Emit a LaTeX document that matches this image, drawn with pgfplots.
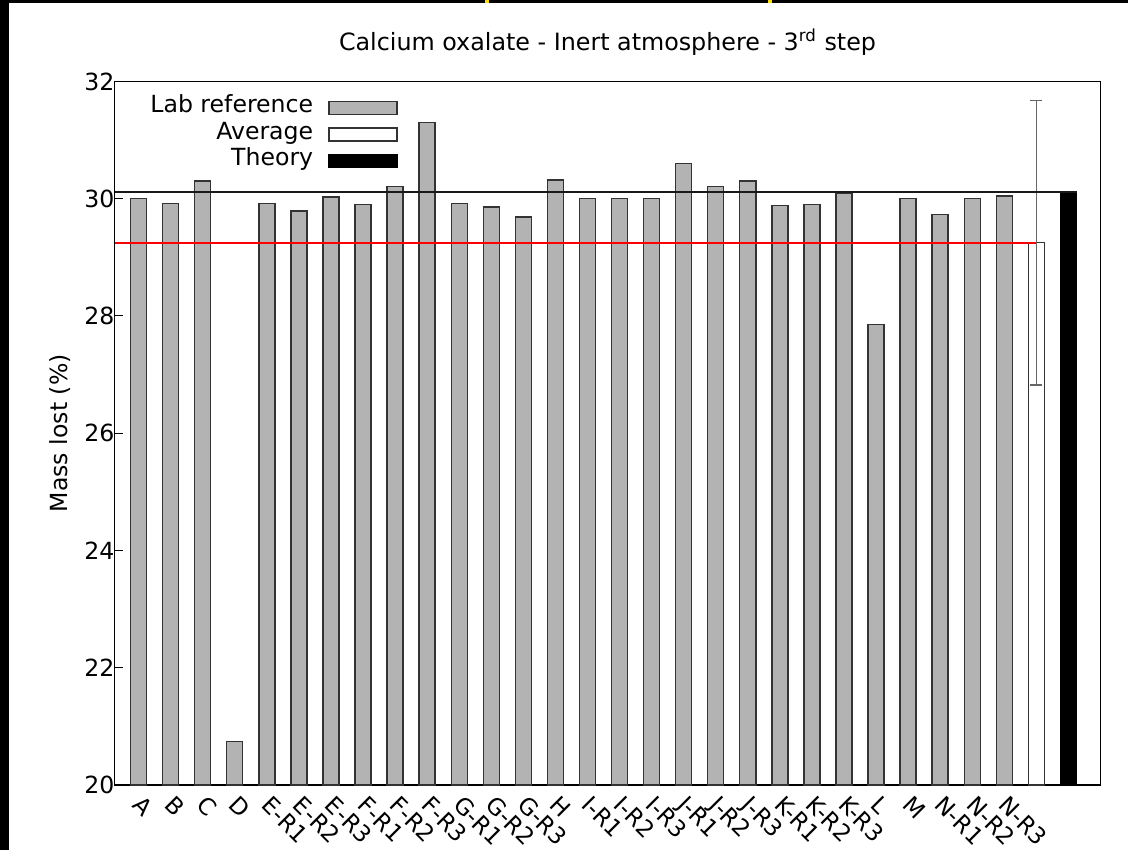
\documentclass[border=0pt]{standalone}
\usepackage{pgfplots}
\pgfplotsset{compat=1.18}
\usepackage{pgfplotstable}
\usepackage{fontspec}
\setmainfont{DejaVu Sans}
\definecolor{barfill}{HTML}{B3B3B3}
\definecolor{baredge}{HTML}{333333}

\pgfplotstableread{
x y
0 30.00
1 29.92
2 30.30
3 20.74
4 29.92
5 29.79
6 30.03
7 29.90
8 30.21
9 31.30
10 29.92
11 29.86
12 29.69
13 30.32
14 30.00
15 30.00
16 30.00
17 30.60
18 30.21
19 30.30
20 29.88
21 29.90
22 30.10
23 27.86
24 30.00
25 29.73
26 30.00
27 30.05
}\labdata

\begin{document}
\begin{tikzpicture}[font=\fontsize{11.8}{14}\selectfont]
% page background (screenshot frame)
\path[use as bounding box] (0,0) rectangle (564pt,425pt);
\fill[white] (0,0) rectangle (564pt,425pt);
\fill[black] (0,0) rectangle (4.5pt,425pt);
\fill[black] (0,423.5pt) rectangle (564pt,425pt);
\fill[yellow!80!orange] (242.5pt,423.7pt) rectangle (244.5pt,425pt);
\fill[yellow!80!orange] (384pt,423.7pt) rectangle (386pt,425pt);
\begin{axis}[
  at={(57.25pt,32.5pt)}, anchor=south west,
  scale only axis, width=493pt, height=351.75pt,
  xmin=-0.75, xmax=30, ymin=20, ymax=32,
  ytick={20,22,...,32},
  ytick pos=left,
  yticklabel style={/pgf/number format/assume math mode=true, xshift=3.5pt},
  major tick length=4pt,
  tick align=inside,
  tick style={black, line width=0.5pt},
  axis line style={black, line width=0.6pt},
  xtick={0,...,27},
  xticklabels={A,B,C,D,E-R1,E-R2,E-R3,F-R1,F-R2,F-R3,G-R1,G-R2,G-R3,H,I-R1,I-R2,I-R3,J-R1,J-R2,J-R3,K-R1,K-R2,K-R3,L,M,N-R1,N-R2,N-R3},
  xtick style={draw=none},
  xticklabel style={xshift=2.6pt, yshift=-4.6pt, rotate=-45, anchor=north west, inner sep=0pt, font=\fontsize{11.6}{14}\selectfont},
  ylabel={Mass lost (\%)},
  ylabel style={at={(axis description cs:-0.0555,0.5)}, anchor=center},
  title={Calcium oxalate - Inert atmosphere - 3\textsuperscript{rd} step},
  title style={at={(axis description cs:0.5,1.039)}, anchor=center, font=\fontsize{11.9}{14}\selectfont},
  legend plot pos=right,
  legend cell align=right,
  legend image code/.code={\draw[#1] (0pt,-3.25pt) rectangle (34pt,3.25pt);},
  legend style={at={(axis description cs:0.2875,0.982)}, anchor=north east,
    draw=none, fill=none, inner sep=0pt, column sep=7.5pt, row sep=0pt,
    nodes={inner sep=0pt, text height=9pt, text depth=4.25pt}},
]
\addplot[ybar, bar width=8pt, bar shift=0pt, fill=barfill, draw=baredge, line width=0.7pt]
  table[x=x, y=y] {\labdata};
\addlegendentry{Lab reference}
\addplot[ybar, bar width=8pt, bar shift=0pt, fill=white, draw=baredge, line width=0.7pt,
  error bars/.cd, y dir=both, y explicit,
  error bar style={black!60, line width=0.7pt},
  error mark options={rotate=90, mark size=3pt, black!60, line width=0.7pt}]
  coordinates {(28,29.25) +- (0,2.43)};
\addlegendentry{Average}
\addplot[ybar, bar width=8pt, bar shift=0pt, fill=black, draw=black, line width=0.7pt]
  coordinates {(29,30.12)};
\addlegendentry{Theory}
\addplot[forget plot, black!90, line width=1pt] coordinates {(-0.75,30.12) (29.27,30.12)};
\addplot[forget plot, red, line width=1pt] coordinates {(-0.75,29.25) (28,29.25)};
\end{axis}
\end{tikzpicture}
\end{document}
